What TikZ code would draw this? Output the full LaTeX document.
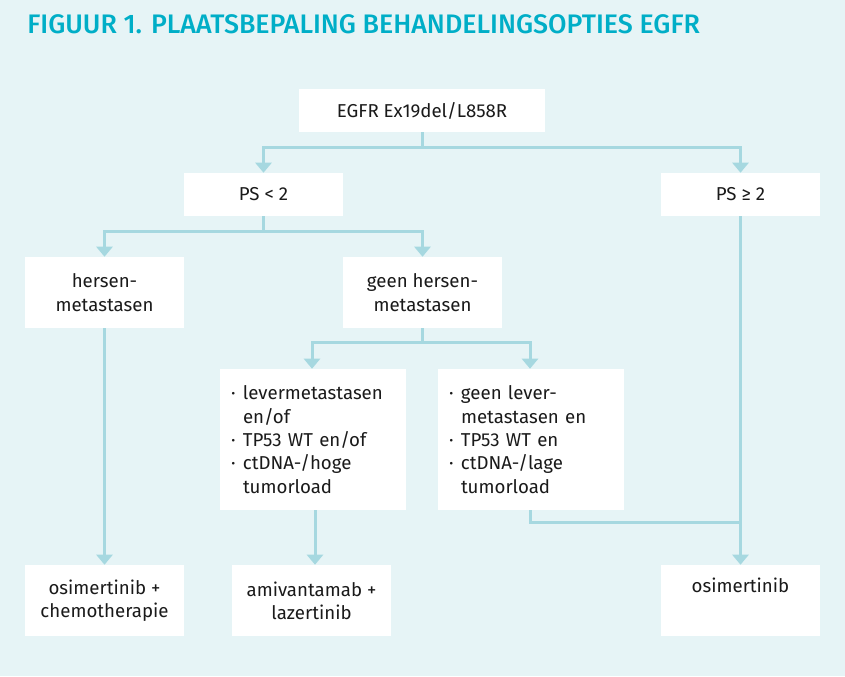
\documentclass[tikz,border=0pt]{standalone}
\usepackage{fontspec}
\setmainfont{Fira Sans}
\newfontfamily\titlefont{Fira Sans Medium}
\usetikzlibrary{arrows.meta}
\definecolor{bgc}{HTML}{E6F4F6}
\definecolor{titlec}{HTML}{00AEC7}
\definecolor{linec}{HTML}{A6D8E0}
\definecolor{txtc}{HTML}{1A1A1A}
\newcommand{\bl}{\makebox[9pt][l]{·}}
\newcommand{\ind}{\hspace*{9pt}}
\begin{document}
\begin{tikzpicture}[x=0.75pt,y=-0.75pt,
  box/.style={fill=white, draw=none, text=txtc, align=center, inner sep=0pt,
    font=\fontsize{14}{17.5}\selectfont},
  wbox/.style={box, minimum width=119.25pt, minimum height=53.25pt},
  sbox/.style={box, minimum width=119.25pt, minimum height=32.25pt},
  bbox/.style={box, minimum width=139.5pt, minimum height=105.75pt, align=left, text width=123pt},
  conn/.style={draw=linec, line width=2.25pt},
  arr/.style={conn, -{Triangle[width=12pt,length=7.5pt]}},
  titlestyle/.style={text=titlec, anchor=base west, inner sep=0pt,
    font=\fontsize{20.1}{24}\titlefont}]
\fill[bgc] (0,0) rectangle (845,676);
\useasboundingbox (0,0) rectangle (845,676);
\node[titlestyle] (title) at (27,33) {FIGUUR 1. PLAATSBEPALING BEHANDELINGSOPTIES EGFR};

\node[box, minimum width=184.5pt, minimum height=32.25pt] (egfr) at (422,110.5) {EGFR Ex19del/L858R};
\node[sbox] (ps1) at (263.5,194.5) {PS < 2};
\node[sbox] (ps2) at (740.5,194.5) {PS ≥ 2};
\node[wbox] (hm) at (104.5,292.5) {hersen-\\metastasen};
\node[wbox] (ghm) at (422.5,292.5) {geen hersen-\\metastasen};
\node[bbox] (lb) at (313,439.5) {\bl levermetastasen\\\ind en/of\\\bl TP53 WT en/of\\\bl ctDNA-/hoge\\\ind tumorload};
\node[bbox] (rb) at (531,439.5) {\bl geen lever-\\\ind metastasen en\\\bl TP53 WT en\\\bl ctDNA-/lage\\\ind tumorload};
\node[wbox] (oc) at (104.5,600.5) {osimertinib +\\chemotherapie};
\node[wbox] (al) at (311.5,600.5) {amivantamab +\\lazertinib};
\node[wbox] (os) at (740.5,600.5) {osimertinib\\\strut};

\draw[arr] (egfr.south) -- ++(0,15) -| (ps1.north);
\draw[arr] (egfr.south) -- ++(0,15) -| (ps2.north);
\draw[arr] (ps1.south) -- ++(0,15) -| (hm.north);
\draw[arr] (ps1.south) -- ++(0,15) -| (ghm.north);
\draw[arr] (ghm.south) -- ++(0,14) -| ([xshift=-0.75pt]lb.north);
\draw[arr] (ghm.south) -- ++(0,14) -| ([xshift=-0.75pt]rb.north);
\draw[arr] (hm.south) -- (oc.north);
\draw[arr] ([xshift=1.5pt]lb.south) -- ([xshift=1.5pt]lb.south |- al.north);
\draw[arr] (ps2.south) -- (os.north);
\coordinate (join) at (ps2.south |- 0,522);
\draw[conn] ([xshift=-0.75pt]rb.south) |- (join);
\end{tikzpicture}
\end{document}
